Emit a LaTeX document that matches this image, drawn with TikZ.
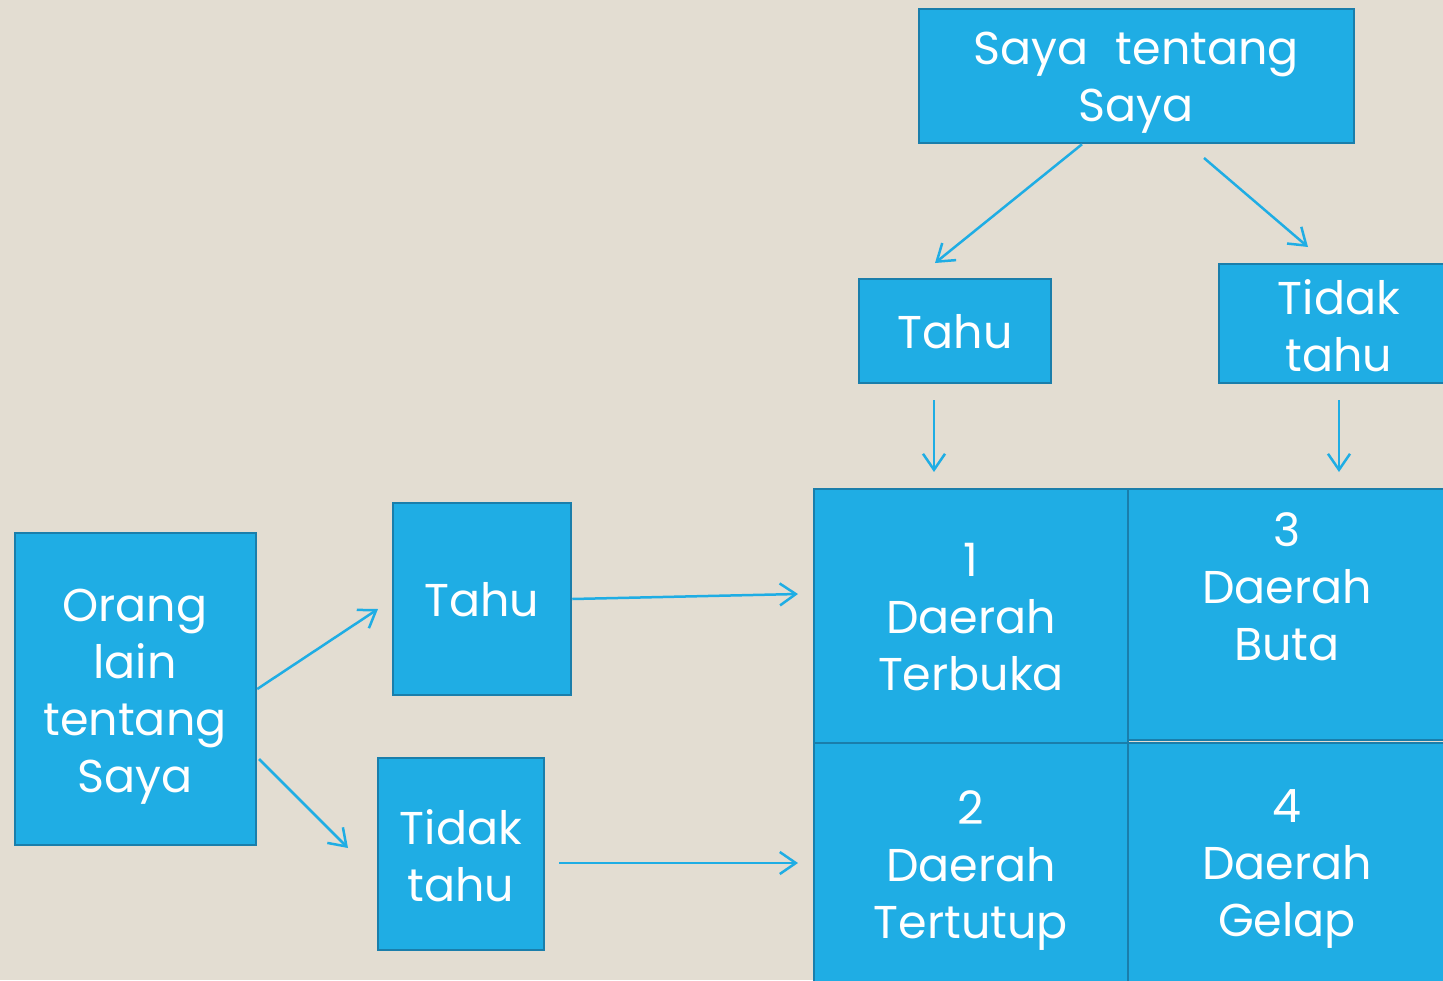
\documentclass[tikz,border=0pt]{standalone}
\usepackage{fontspec}
\setmainfont{Poppins}
\usetikzlibrary{arrows.meta}
\definecolor{bg}{HTML}{E3DDD2}
\definecolor{boxfill}{HTML}{1FADE4}
\definecolor{boxline}{HTML}{1A7EAB}
\definecolor{arrowc}{HTML}{1FADE4}
\begin{document}
\begin{tikzpicture}[x=1pt,y=-1pt,
  box/.style={draw=boxline, fill=boxfill, line width=2.5pt, inner sep=0pt},
  boxtext/.style={text=white, align=center, inner sep=0pt,
    font=\fontsize{46}{57}\selectfont},
  link/.style={draw=arrowc, line width=2.5pt,
    -{Straight Barb[length=16pt,width=22pt]}}]
  % canvas
  \fill[bg] (0,0) rectangle (1443,980);
  \clip (0,0) rectangle (1443,980);

  % top branch: what I know about myself
  \node[box, minimum width=435pt, minimum height=134pt] (self) at (1136.5,76) {};
  \node[boxtext] (selftxt) at (1136,83) {Saya\hspace{0.6em}tentang\\Saya};
  \node[box, minimum width=192pt, minimum height=104pt] (tahuT) at (955,331) {};
  \node[boxtext] (tahuTtxt) at (955,332) {Tahu};
  \node[box, minimum width=240pt, minimum height=119pt] (tidakT) at (1339,323.5) {};
  \node[boxtext] (tidakTtxt) at (1339,326) {Tidak\\tahu};

  % left branch: what others know about me
  \node[box, minimum width=241pt, minimum height=312pt] (others) at (135.5,689) {};
  \node[boxtext] (otherstxt) at (135,697) {Orang\\lain\\tentang\\Saya};
  \node[box, minimum width=178pt, minimum height=192pt] (tahuL) at (482,599) {};
  \node[boxtext] (tahuLtxt) at (482,600) {Tahu};
  \node[box, minimum width=166pt, minimum height=192pt] (tidakL) at (461,854) {};
  \node[boxtext] (tidakLtxt) at (461,856) {Tidak\\tahu};

  % Johari window
  \node[box, minimum width=314pt, minimum height=254pt] (open) at (971,616) {};
  \node[boxtext] (opentxt) at (971,617) {1\\Daerah\\Terbuka};
  \node[box, minimum width=318pt, minimum height=251pt] (blind) at (1287,614.5) {};
  \node[boxtext] (blindtxt) at (1287,587) {3\\Daerah\\Buta};
  \node[box, minimum width=314pt, minimum height=244pt] (hidden) at (971,865) {};
  \node[boxtext] (hiddentxt) at (971,871) {2\\Daerah\\Tertutup};
  \node[box, minimum width=318pt, minimum height=244pt] (dark) at (1287,865) {};
  \node[boxtext] (darktxt) at (1287,869) {4\\Daerah\\Gelap};

  % loose arrow ends
  \coordinate (a1e) at (935,263);
  \coordinate (a2s) at (1204,158);
  \coordinate (a2e) at (1308,247);
  \coordinate (a3s) at (934,400);
  \coordinate (a3e) at (934,472);
  \coordinate (a4s) at (1339,400);
  \coordinate (a4e) at (1339,472);
  \coordinate (a5e) at (378,609);
  \coordinate (a6s) at (259,759);
  \coordinate (a6e) at (348,848);
  \coordinate (a7e) at (798,594);
  \coordinate (a8s) at (559,863);
  \coordinate (a8e) at (798,863);

  % connectors
  \draw[link] ([xshift=-54.5pt]self.south) -- (a1e);
  \draw[link] (a2s) -- (a2e);
  \draw[link] (a3s) -- (a3e);
  \draw[link] (a4s) -- (a4e);
  \draw[link] (others.east) -- (a5e);
  \draw[link] (a6s) -- (a6e);
  \draw[link] (tahuL.east) -- (a7e);
  \draw[link] (a8s) -- (a8e);
\end{tikzpicture}
\end{document}
